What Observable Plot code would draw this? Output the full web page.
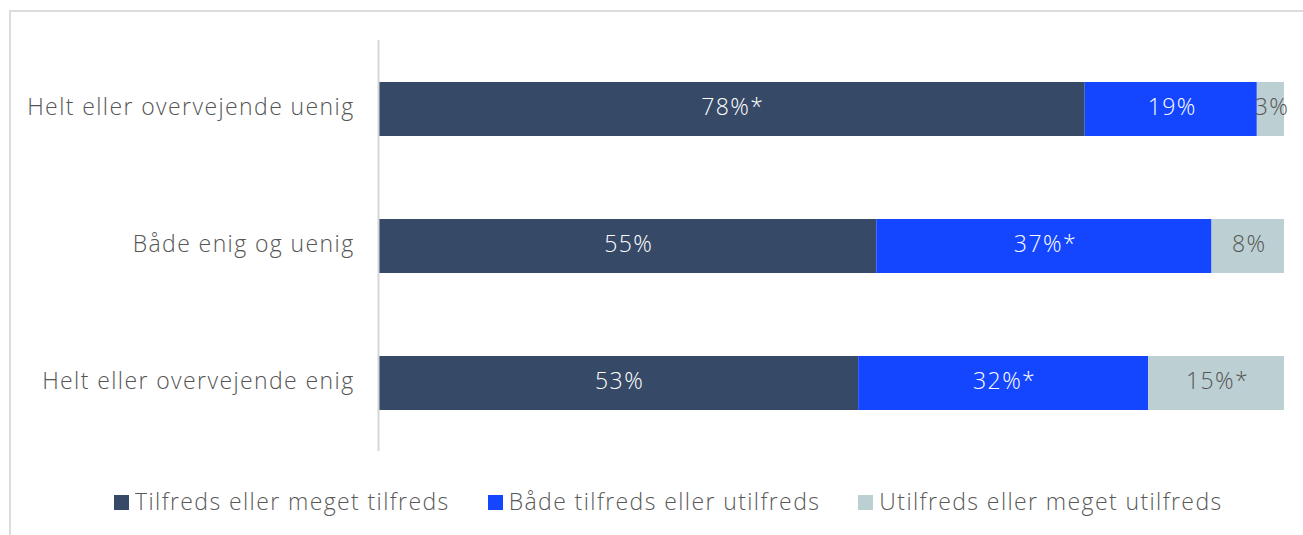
<!DOCTYPE html>
<html>
<head>
<meta charset="utf-8">
<script src="https://cdn.jsdelivr.net/npm/d3@7"></script>
<script src="https://cdn.jsdelivr.net/npm/@observablehq/plot@0.6"></script>
<style>
  html, body { margin: 0; padding: 0; background: #fff; width: 1303px; height: 535px; overflow: hidden; }
  body { position: relative; font-family: "Open Sans", sans-serif; font-weight: 300; }
  #frame { position: absolute; left: 9px; top: 10px; right: 0; bottom: 0; border-top: 2px solid #dcdcdc; border-left: 2px solid #dcdcdc; }
  #chart { position: absolute; left: 0; top: 0; }
  #chart svg text { letter-spacing: 1.4px; }
  #legend { position: absolute; left: 114px; top: 485px; display: flex; gap: 38px; font-size: 23px; color: #595959; letter-spacing: 1.4px; }
  .item { display: flex; align-items: center; gap: 6px; }
  .sw { width: 15px; height: 15px; display: inline-block; margin-top: 3px; }
</style>
</head>
<body>
<div id="frame"></div>
<div id="chart"></div>
<div id="legend"></div>
<script>
const categories = ["Helt eller overvejende uenig", "Både enig og uenig", "Helt eller overvejende enig"];
const seriesNames = ["Tilfreds eller meget tilfreds", "Både tilfreds eller utilfreds", "Utilfreds eller meget utilfreds"];
const seriesColors = ["#364966", "#1446ff", "#bccfd3"];
const labelColors = ["#ffffff", "#ffffff", "#555555"];
const satisfied = [78, 55, 53];
const mixed = [19, 37, 32];
const dissatisfied = [3, 8, 15];
const satisfiedLabels = ["78%*", "55%", "53%"];
const mixedLabels = ["19%", "37%*", "32%*"];
const dissatisfiedLabels = ["3%", "8%", "15%*"];

const seriesValues = [satisfied, mixed, dissatisfied];
const seriesLabels = [satisfiedLabels, mixedLabels, dissatisfiedLabels];
const data = [];
seriesNames.forEach((s, si) => {
  categories.forEach((c, ci) => {
    data.push({cat: c, series: s, value: seriesValues[si][ci], label: seriesLabels[si][ci], textColor: labelColors[si]});
  });
});

const plot = Plot.plot({
  width: 1303,
  height: 465,
  marginLeft: 378,
  marginRight: 19,
  marginTop: 40,
  marginBottom: 14,
  style: {fontFamily: "'Open Sans', sans-serif", fontWeight: 300, background: "transparent"},
  x: {domain: [0, 100], axis: null},
  y: {domain: categories, paddingInner: 0.606, paddingOuter: 0.3, label: null, tickSize: 0, tickPadding: 24},
  color: {domain: seriesNames, range: seriesColors},
  marks: [
    Plot.barX(data, Plot.stackX({x: "value", y: "cat", fill: "series", order: seriesNames})),
    Plot.textX(data, Plot.stackX({x: "value", y: "cat", z: "series", order: seriesNames, text: "label", fill: "textColor", fontSize: 23, fontWeight: 300, dx: 1, dy: -2})),
    Plot.ruleX([0], {stroke: "#d6d6d6", strokeWidth: 2}),
    Plot.axisY({tickSize: 0, tickPadding: 24, fontSize: 23, fill: "#555555", fontWeight: 300, dy: -2})
  ]
});
document.getElementById("chart").appendChild(plot);

const legend = document.getElementById("legend");
seriesNames.forEach((s, i) => {
  const it = document.createElement("div");
  it.className = "item";
  const sw = document.createElement("span");
  sw.className = "sw";
  sw.style.background = seriesColors[i];
  const t = document.createElement("span");
  t.textContent = s;
  it.appendChild(sw);
  it.appendChild(t);
  legend.appendChild(it);
});
</script>
</body>
</html>
